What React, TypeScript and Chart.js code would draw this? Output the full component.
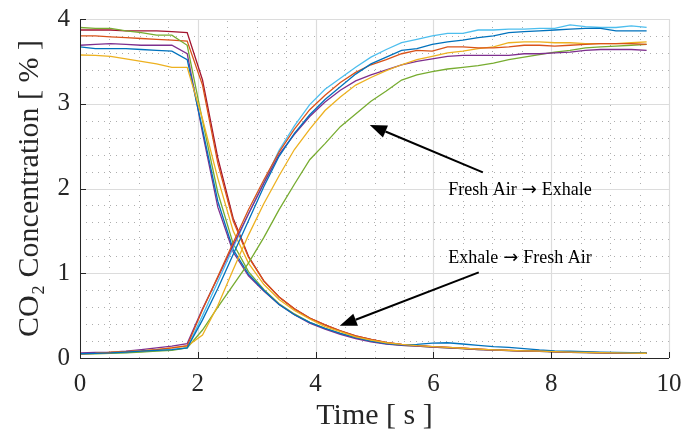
import React, { useEffect, useRef } from "react";
import { Chart, registerables } from "chart.js";

Chart.register(...registerables);

const time = [0, 0.26, 0.52, 0.78, 1.04, 1.3, 1.56, 1.82, 2.08, 2.34, 2.6, 2.86, 3.12, 3.38, 3.64, 3.9, 4.16, 4.42, 4.68, 4.94, 5.2, 5.46, 5.72, 5.98, 6.24, 6.5, 6.76, 7.02, 7.28, 7.54, 7.8, 8.06, 8.32, 8.58, 8.84, 9.1, 9.36, 9.62];

// Exhale -> Fresh Air (falling)
const fallGreen = [3.9, 3.89, 3.89, 3.86, 3.84, 3.81, 3.81, 3.69, 2.8, 1.95, 1.35, 1.02, 0.81, 0.64, 0.52, 0.42, 0.35, 0.29, 0.24, 0.2, 0.17, 0.15, 0.14, 0.13, 0.12, 0.11, 0.1, 0.095, 0.088, 0.083, 0.078, 0.073, 0.068, 0.064, 0.061, 0.058, 0.056, 0.054];
const fallDarkRed = [3.87, 3.87, 3.87, 3.86, 3.86, 3.86, 3.85, 3.84, 3.28, 2.36, 1.65, 1.2, 0.91, 0.72, 0.58, 0.47, 0.39, 0.32, 0.26, 0.22, 0.185, 0.16, 0.145, 0.135, 0.125, 0.115, 0.105, 0.097, 0.09, 0.085, 0.08, 0.075, 0.07, 0.066, 0.063, 0.06, 0.058, 0.056];
const fallOrange = [3.8, 3.8, 3.79, 3.78, 3.77, 3.76, 3.75, 3.74, 3.22, 2.3, 1.62, 1.19, 0.91, 0.72, 0.58, 0.47, 0.39, 0.32, 0.26, 0.22, 0.18, 0.16, 0.145, 0.135, 0.125, 0.115, 0.105, 0.097, 0.09, 0.085, 0.08, 0.075, 0.07, 0.066, 0.063, 0.06, 0.058, 0.056];
const fallPurple = [3.69, 3.7, 3.71, 3.7, 3.69, 3.69, 3.69, 3.59, 2.66, 1.78, 1.25, 0.97, 0.79, 0.63, 0.51, 0.41, 0.34, 0.28, 0.23, 0.19, 0.165, 0.15, 0.14, 0.13, 0.12, 0.11, 0.1, 0.093, 0.087, 0.082, 0.077, 0.072, 0.068, 0.064, 0.061, 0.058, 0.056, 0.054];
const fallBlue = [3.67, 3.65, 3.65, 3.65, 3.64, 3.63, 3.62, 3.52, 2.7, 1.85, 1.28, 0.99, 0.8, 0.63, 0.51, 0.42, 0.35, 0.29, 0.24, 0.2, 0.17, 0.155, 0.16, 0.175, 0.18, 0.165, 0.15, 0.135, 0.125, 0.11, 0.095, 0.085, 0.08, 0.075, 0.07, 0.066, 0.063, 0.06];
const fallYellow = [3.575, 3.57, 3.56, 3.53, 3.5, 3.47, 3.43, 3.43, 2.82, 2.12, 1.5, 1.12, 0.87, 0.69, 0.56, 0.46, 0.37, 0.31, 0.25, 0.21, 0.18, 0.16, 0.145, 0.135, 0.125, 0.115, 0.105, 0.097, 0.09, 0.085, 0.08, 0.075, 0.07, 0.066, 0.063, 0.06, 0.058, 0.056];

// Fresh Air -> Exhale (rising)
const riseBlue = [0.05, 0.055, 0.06, 0.07, 0.08, 0.09, 0.1, 0.12, 0.45, 0.82, 1.22, 1.62, 2.02, 2.38, 2.65, 2.87, 3.05, 3.2, 3.35, 3.47, 3.55, 3.63, 3.65, 3.7, 3.73, 3.75, 3.78, 3.8, 3.84, 3.85, 3.86, 3.87, 3.88, 3.89, 3.89, 3.86, 3.86, 3.86];
const riseOrange = [0.05, 0.055, 0.065, 0.075, 0.085, 0.1, 0.12, 0.145, 0.57, 0.96, 1.36, 1.75, 2.1, 2.43, 2.7, 2.93, 3.1, 3.25, 3.37, 3.46, 3.52, 3.59, 3.63, 3.62, 3.67, 3.67, 3.66, 3.66, 3.67, 3.69, 3.69, 3.68, 3.69, 3.7, 3.71, 3.71, 3.71, 3.7];
const riseYellow = [0.05, 0.055, 0.065, 0.075, 0.085, 0.1, 0.12, 0.14, 0.27, 0.62, 1.04, 1.45, 1.82, 2.15, 2.46, 2.7, 2.92, 3.08, 3.22, 3.31, 3.39, 3.46, 3.52, 3.56, 3.6, 3.62, 3.65, 3.67, 3.72, 3.73, 3.73, 3.72, 3.72, 3.71, 3.71, 3.71, 3.72, 3.73];
const risePurple = [0.06, 0.065, 0.07, 0.08, 0.1, 0.12, 0.14, 0.17, 0.58, 0.95, 1.33, 1.7, 2.06, 2.4, 2.64, 2.85, 3.02, 3.16, 3.27, 3.34, 3.4, 3.46, 3.5, 3.53, 3.56, 3.57, 3.57, 3.57, 3.57, 3.59, 3.59, 3.6, 3.61, 3.63, 3.64, 3.64, 3.64, 3.63];
const riseGreen = [0.05, 0.05, 0.055, 0.06, 0.07, 0.08, 0.09, 0.12, 0.33, 0.6, 0.86, 1.12, 1.42, 1.75, 2.05, 2.34, 2.53, 2.73, 2.88, 3.03, 3.15, 3.28, 3.34, 3.38, 3.41, 3.43, 3.45, 3.48, 3.52, 3.55, 3.58, 3.61, 3.63, 3.66, 3.67, 3.68, 3.69, 3.7];
const riseLightBlue = [0.05, 0.055, 0.06, 0.065, 0.075, 0.085, 0.1, 0.12, 0.5, 0.9, 1.3, 1.7, 2.07, 2.45, 2.74, 2.99, 3.17, 3.3, 3.43, 3.55, 3.64, 3.72, 3.76, 3.8, 3.83, 3.83, 3.87, 3.87, 3.88, 3.88, 3.89, 3.89, 3.93, 3.91, 3.9, 3.9, 3.92, 3.9];

const xTicks = [0, 2, 4, 6, 8, 10];
const yTicks = [0, 1, 2, 3, 4];

// annotation arrows (data units): tail -> tip, with text (left part, arrow, right part)
const annotations = [
  { left: "Fresh Air", right: "Exhale", tx: 7.47, ty: 1.99, fromX: 6.84, fromY: 2.19, toX: 4.92, toY: 2.75 },
  { left: "Exhale", right: "Fresh Air", tx: 7.47, ty: 1.19, fromX: 6.77, fromY: 1.01, toX: 4.41, toY: 0.38 },
];

const C = {
  blue: "#0072BD",
  orange: "#D95319",
  yellow: "#EDB120",
  purple: "#7E2F8E",
  green: "#77AC30",
  lightBlue: "#4DBEEE",
  darkRed: "#A2142F",
};

const seriesList = [
  { data: riseBlue, color: C.blue },
  { data: riseOrange, color: C.orange },
  { data: riseYellow, color: C.yellow },
  { data: risePurple, color: C.purple },
  { data: riseGreen, color: C.green },
  { data: riseLightBlue, color: C.lightBlue },
  { data: fallYellow, color: C.yellow },
  { data: fallBlue, color: C.blue },
  { data: fallPurple, color: C.purple },
  { data: fallGreen, color: C.green },
  { data: fallOrange, color: C.orange },
  { data: fallDarkRed, color: C.darkRed },
];

const SERIF = "'Liberation Serif', 'Times New Roman', serif";
const AXIS_COLOR = "#262626";

const matlabPlugin = {
  id: "matlabDecor",
  beforeDatasetsDraw(chart: any) {
    const { ctx, chartArea, scales } = chart;
    const { left, right, top, bottom } = chartArea;
    const x = scales.x;
    const y = scales.y;
    ctx.save();
    ctx.strokeStyle = "rgba(0,0,0,0.32)";
    ctx.lineWidth = 1;
    ctx.setLineDash([1, 5]);
    for (let v = 0.5; v < 10; v += 0.5) {
      if (Math.abs(v / 2 - Math.round(v / 2)) < 1e-6) continue;
      const px = Math.round(x.getPixelForValue(v)) + 0.5;
      ctx.beginPath();
      ctx.moveTo(px, bottom);
      ctx.lineTo(px, top);
      ctx.stroke();
    }
    for (let v = 0.2; v < 4; v += 0.2) {
      if (Math.abs(v - Math.round(v)) < 1e-6) continue;
      const py = Math.round(y.getPixelForValue(v)) + 0.5;
      ctx.beginPath();
      ctx.moveTo(left, py);
      ctx.lineTo(right, py);
      ctx.stroke();
    }
    ctx.setLineDash([]);
    ctx.strokeStyle = "#dcdcdc";
    ctx.lineWidth = 1.2;
    for (const v of xTicks) {
      const px = Math.round(x.getPixelForValue(v)) + 0.5;
      ctx.beginPath();
      ctx.moveTo(px, bottom);
      ctx.lineTo(px, top);
      ctx.stroke();
    }
    for (const v of yTicks) {
      const py = Math.round(y.getPixelForValue(v)) + 0.5;
      ctx.beginPath();
      ctx.moveTo(left, py);
      ctx.lineTo(right, py);
      ctx.stroke();
    }
    ctx.restore();
  },
  afterDatasetsDraw(chart: any) {
    const { ctx, chartArea, scales } = chart;
    const { left, right, top, bottom } = chartArea;
    const x = scales.x;
    const y = scales.y;
    ctx.save();
    ctx.strokeStyle = AXIS_COLOR;
    ctx.lineWidth = 1;
    ctx.beginPath();
    ctx.moveTo(Math.round(left) + 0.5, top);
    ctx.lineTo(Math.round(left) + 0.5, Math.round(bottom) + 0.5);
    ctx.lineTo(right, Math.round(bottom) + 0.5);
    ctx.stroke();
    for (const v of xTicks) {
      const px = Math.round(x.getPixelForValue(v)) + 0.5;
      ctx.beginPath();
      ctx.moveTo(px, bottom);
      ctx.lineTo(px, bottom - 6);
      ctx.stroke();
    }
    for (const v of yTicks) {
      const py = Math.round(y.getPixelForValue(v)) + 0.5;
      ctx.beginPath();
      ctx.moveTo(left, py);
      ctx.lineTo(left + 6, py);
      ctx.stroke();
    }
    ctx.strokeStyle = "#000";
    ctx.fillStyle = "#000";
    for (const a of annotations) {
      const x1 = x.getPixelForValue(a.fromX);
      const y1 = y.getPixelForValue(a.fromY);
      const x2 = x.getPixelForValue(a.toX);
      const y2 = y.getPixelForValue(a.toY);
      const ang = Math.atan2(y2 - y1, x2 - x1);
      const hl = 17;
      const hw = 6.5;
      const bx = x2 - hl * Math.cos(ang);
      const by = y2 - hl * Math.sin(ang);
      ctx.lineWidth = 2;
      ctx.beginPath();
      ctx.moveTo(x1, y1);
      ctx.lineTo(bx, by);
      ctx.stroke();
      ctx.beginPath();
      ctx.moveTo(x2, y2);
      ctx.lineTo(bx + hw * Math.sin(ang), by - hw * Math.cos(ang));
      ctx.lineTo(bx - hw * Math.sin(ang), by + hw * Math.cos(ang));
      ctx.closePath();
      ctx.fill();

      // text: left part, arrow glyph (wider font), right part
      const textFont = `18px ${SERIF}`;
      const arrowFont = `18px 'DejaVu Sans', sans-serif`;
      const gap = 5;
      ctx.font = textFont;
      const wl = ctx.measureText(a.left).width;
      const wr = ctx.measureText(a.right).width;
      ctx.font = arrowFont;
      const wa = ctx.measureText("\u2192").width;
      const total = wl + gap + wa + gap + wr;
      const cx = x.getPixelForValue(a.tx);
      const cy = y.getPixelForValue(a.ty);
      let sx = cx - total / 2;
      ctx.textAlign = "left";
      ctx.textBaseline = "alphabetic";
      const base = cy + 6;
      ctx.font = textFont;
      ctx.fillText(a.left, sx, base);
      sx += wl + gap;
      ctx.font = arrowFont;
      ctx.fillText("\u2192", sx, base - 0.5);
      sx += wa + gap;
      ctx.font = textFont;
      ctx.fillText(a.right, sx, base);
    }
    ctx.restore();
  },
};

export default function App() {
  const canvasRef = useRef<HTMLCanvasElement | null>(null);

  useEffect(() => {
    if (!canvasRef.current) return;
    const chart = new Chart(canvasRef.current, {
      type: "line",
      data: {
        datasets: seriesList.map((s) => ({
          data: time.map((t, i) => ({ x: t, y: s.data[i] })),
          borderColor: s.color,
          backgroundColor: s.color,
          borderWidth: 1.3,
          pointRadius: 0,
          tension: 0,
          fill: false,
        })),
      },
      options: {
        responsive: false,
        animation: false,
        devicePixelRatio: 1,
        layout: { padding: { top: 19, right: 14, left: 0, bottom: 0 } },
        plugins: {
          legend: { display: false },
          tooltip: { enabled: false },
        },
        scales: {
          x: {
            type: "linear",
            min: 0,
            max: 10,
            afterFit: (s: any) => {
              s.height = 78;
              s.paddingLeft = 0;
              s.paddingRight = 0;
            },
            ticks: {
              stepSize: 2,
              padding: 11,
              color: AXIS_COLOR,
              font: { family: SERIF, size: 25 },
              maxRotation: 0,
            },
            grid: { display: false, drawTicks: false },
            border: { display: false },
            title: {
              display: true,
              text: "Time [ s ]",
              color: AXIS_COLOR,
              font: { family: SERIF, size: 30 },
              padding: { top: 0, bottom: 2 },
            },
          },
          y: {
            type: "linear",
            min: 0,
            max: 4,
            afterFit: (s: any) => {
              s.width = 80;
              s.paddingTop = 0;
              s.paddingBottom = 0;
            },
            ticks: {
              stepSize: 1,
              padding: 10,
              color: AXIS_COLOR,
              font: { family: SERIF, size: 25 },
            },
            grid: { display: false, drawTicks: false },
            border: { display: false },
            title: {
              display: true,
              text: "CO\u2082 Concentration [ % ]",
              color: AXIS_COLOR,
              font: { family: SERIF, size: 30 },
              padding: { top: 12, bottom: 0 },
            },
          },
        },
      },
      plugins: [matlabPlugin],
    });
    return () => chart.destroy();
  }, []);

  return (
    <div style={{ position: "fixed", left: 0, top: 0, width: 683, height: 436, background: "#fff" }}>
      <canvas ref={canvasRef} width={683} height={436} style={{ display: "block" }} />
    </div>
  );
}
